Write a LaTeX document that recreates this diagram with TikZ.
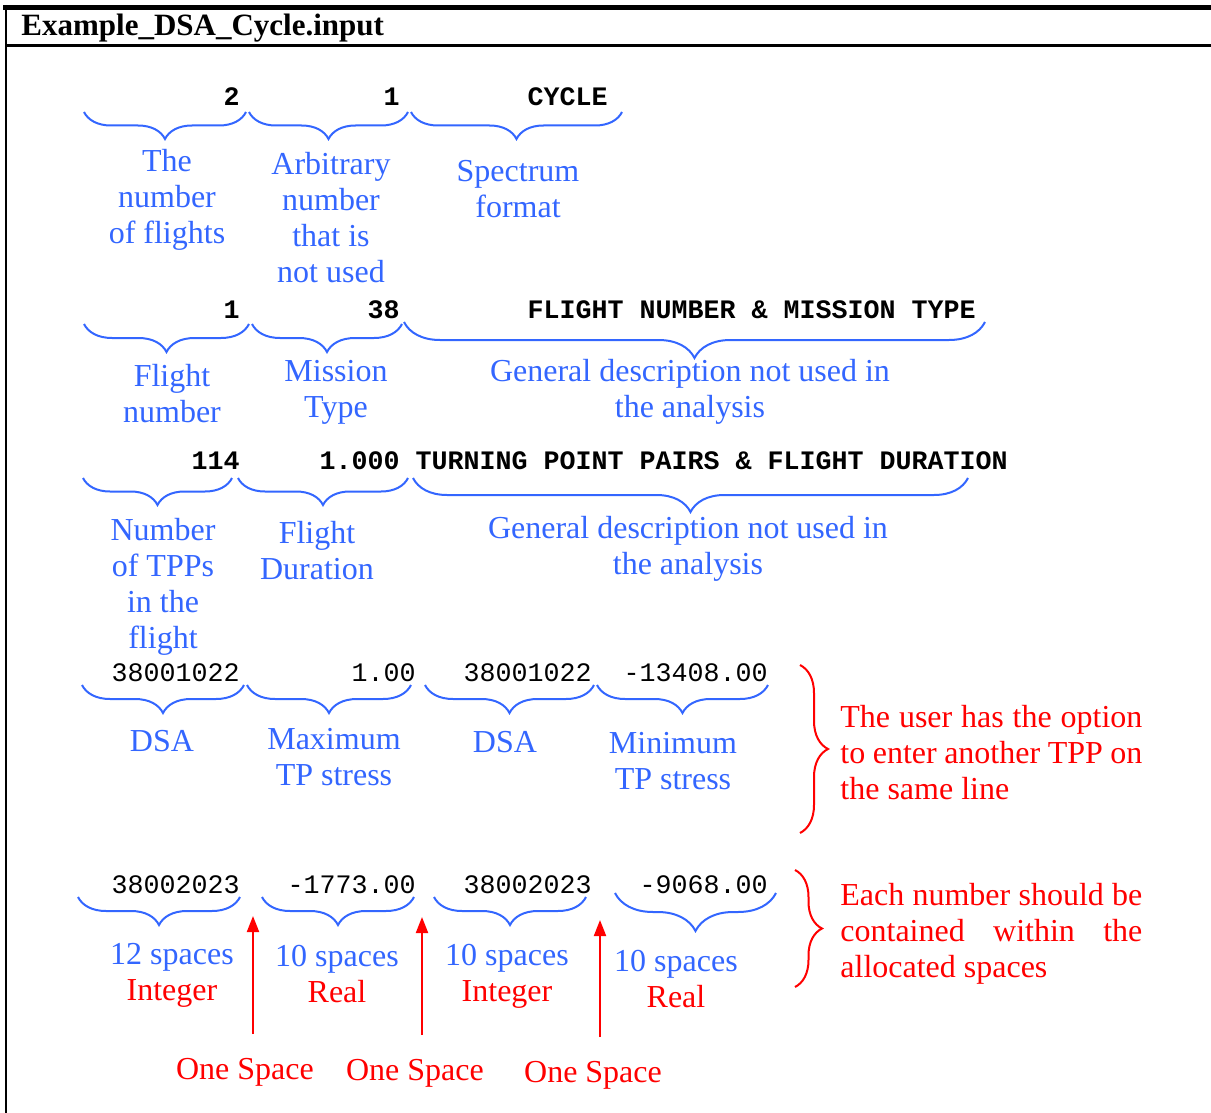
\documentclass[tikz,border=0pt]{standalone}
\usepackage{fontspec}
\setmainfont{Liberation Serif}
\setmonofont{Liberation Mono}
\usetikzlibrary{arrows.meta}
\usetikzlibrary{decorations.pathreplacing}
\definecolor{labblue}{RGB}{51,102,255}

\begin{document}
\begin{tikzpicture}[x=0.5pt,y=-0.5pt]
        \tikzset{title/.style = {anchor=base west,inner sep=0pt,font=\bfseries\fontsize{15.5}{18}\selectfont}}
        \tikzset{val/.style = {anchor=base east,inner sep=0pt,font=\ttfamily\bfseries\fontsize{13.33}{16}\selectfont}}
        \tikzset{rval/.style = {val,font=\ttfamily\fontsize{13.33}{16}\selectfont}}
        \tikzset{lab/.style = {align=center,inner sep=0pt,text=labblue,font=\fontsize{16}{18}\selectfont}}
        \tikzset{rlab/.style = {lab,text=red}}
        \tikzset{note/.style = {anchor=west,text width=151pt,align=justify,inner sep=0pt,text=red,font=\fontsize{16}{18}\selectfont,
                execute at begin node={\hyphenpenalty=10000\relax\exhyphenpenalty=10000\relax}}}
        \tikzset{fbrace/.style = {draw=labblue,line width=1pt,decorate,decoration={brace,mirror,amplitude=#1}}}
        \tikzset{nbrace/.style = {draw=red,line width=1pt,decorate,decoration={brace,amplitude=#1}}}
        \tikzset{edge/.style = {draw=red,line width=1pt,-{Triangle[length=8pt,width=6pt]}}}
        \useasboundingbox (0,0) rectangle (1211,1113);
        % frame and heading
        \draw[line width=2.5pt] (3,7.5) -- (1215,7.5);
        \draw[line width=1pt] (6,5) -- (6,1120);
        \draw[line width=1.2pt] (6,45.5) -- (1215,45.5);
        \node[title] (title) at (21,36) {Example\_DSA\_Cycle.input};
        % input lines
        \node[val] (v11) at (240,106) {2};
        \node[val] (v12) at (400,106) {1};
        \node[val] (v13) at (608,106) {CYCLE};
        \node[val] (v21) at (240,318) {1};
        \node[val] (v22) at (400,318) {38};
        \node[val] (v23) at (976,318) {FLIGHT NUMBER \& MISSION TYPE};
        \node[val] (v31) at (240,469) {114};
        \node[val] (v32) at (400,469) {1.000};
        \node[val] (v33) at (1008,469) {TURNING POINT PAIRS \& FLIGHT DURATION};
        \node[rval] (v41) at (240,681) {38001022};
        \node[rval] (v42) at (416,681) {1.00};
        \node[rval] (v43) at (592,681) {38001022};
        \node[rval] (v44) at (768,681) {-13408.00};
        \node[rval] (v51) at (240,893) {38002023};
        \node[rval] (v52) at (416,893) {-1773.00};
        \node[rval] (v53) at (592,893) {38002023};
        \node[rval] (v54) at (768,893) {-9068.00};
        \foreach \n/\xa/\xb/\y/\a in {b11/84/246/112/13.5pt, b12/249/408/112/13.5pt, b13/411/622/112/13.5pt,
                b21/84/249/324/14pt, b22/252/402/324/14pt, b23/404/985/322/18pt,
                b31/83/232/478/13.5pt, b32/238/408/478/13.5pt, b33/413/968/478/17pt,
                b41/82/244/685/14pt, b42/247/411/685/14pt, b43/425/594/685/14pt, b44/597/768/685/14pt,
                b51/78/240/897/14pt, b52/262/414/897/14pt, b53/434/586/897/14pt, b54/615/776/893/19pt}
        {
            \coordinate (\n w) at (\xa,\y);
            \coordinate (\n e) at (\xb,\y);
            \draw[fbrace=\a] (\n w) -- (\n e);
        }
        % field descriptions
        \node[lab] (l11) at (167,200) {The\\number\\of flights};
        \node[lab] (l12) at (331,218) {Arbitrary\\number\\that is\\not used};
        \node[lab] (l13) at (518,189) {Spectrum\\format};
        \node[lab] (l21) at (172,394) {Flight\\number};
        \node[lab] (l22) at (336,392) {Mission\\Type};
        \node[lab] (l23) at (690,392) {General description not used in\\the analysis};
        \node[lab] (l31) at (163,587) {Number\\of TPPs\\in the\\flight};
        \node[lab] (l32) at (317,551) {Flight\\Duration};
        \node[lab] (l33) at (688,549) {General description not used in\\the analysis};
        \node[lab] (l41) at (162,741) {DSA};
        \node[lab] (l42) at (334,757) {Maximum\\TP stress};
        \node[lab] (l43) at (505,742) {DSA};
        \node[lab] (l44) at (673,761.5) {Minimum\\TP stress};
        \node[lab] (l51) at (172,975) {12 spaces\\\textcolor{red}{Integer}};
        \node[lab] (l52) at (337,974.5) {10 spaces\\\textcolor{red}{Real}};
        \node[lab] (l53) at (507,976) {10 spaces\\\textcolor{red}{Integer}};
        \node[lab] (l54) at (676,979) {10 spaces\\\textcolor{red}{Real}};
        % single blank between fields
        \node[rlab] (s1) at (245,1072) {One Space};
        \node[rlab] (s2) at (415,1073) {One Space};
        \node[rlab] (s3) at (593,1075) {One Space};
        \foreach \n/\x/\ya/\yb in {a1/253/1034/916, a2/422/1035/917, a3/600/1037/920}
        {
            \coordinate (\n s) at (\x,\ya);
            \coordinate (\n t) at (\x,\yb);
            \draw[edge] (\n s) -- (\n t);
        }
        % notes on the right
        \coordinate (n1t) at (800,665);
        \coordinate (n1b) at (800,833);
        \draw[nbrace=14pt] (n1t) -- (n1b);
        \node[note] (n1) at (840,752.5) {The user has the option\linebreak to enter another TPP on\linebreak the same line};
        \coordinate (n2t) at (795,870);
        \coordinate (n2b) at (795,987);
        \draw[nbrace=13.5pt] (n2t) -- (n2b);
        \node[note] (n2) at (840,934) {Each number should be\linebreak contained within the\linebreak allocated spaces};
\end{tikzpicture}
\end{document}
